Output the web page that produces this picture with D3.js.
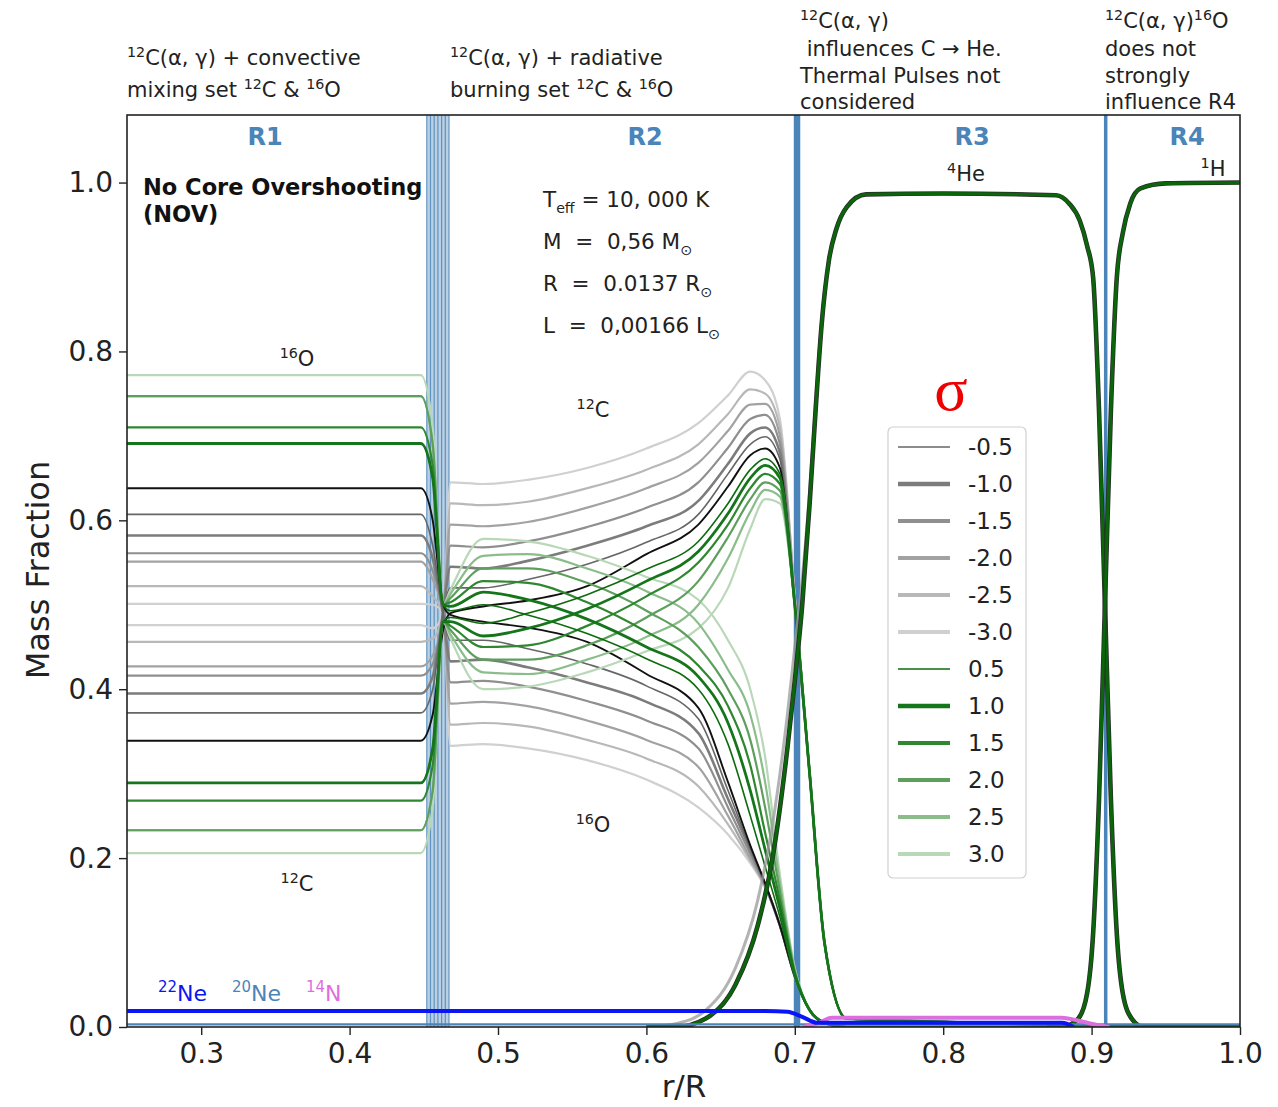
<!DOCTYPE html>
<html lang="en">
<head>
<meta charset="UTF-8">
<title>Mass fraction profiles</title>
<script src="https://cdnjs.cloudflare.com/ajax/libs/d3/7.8.5/d3.min.js"></script>
<style>
  body { margin: 0; background: #fff; }
  svg text { font-family: "DejaVu Sans", sans-serif; fill: #222; white-space: pre; }
  .region { font-weight: bold; fill: #4a84b8; font-size: 24px; text-anchor: middle; }
</style>
</head>
<body>
<div id="chart"></div>
<script>
// ---- data ----
const xTicks = [0.3, 0.4, 0.5, 0.6, 0.7, 0.8, 0.9, 1.0];
const yTicks = [0.0, 0.2, 0.4, 0.6, 0.8, 1.0];

// sigma of the 12C(a,g) rate; "0.0" is the black reference run (not in legend)
const sigmaLabels = ["-3.0", "-2.5", "-2.0", "-1.5", "-1.0", "-0.5", "0.0", "0.5", "1.0", "1.5", "2.0", "2.5", "3.0"];
const legendLabels = ["-0.5", "-1.0", "-1.5", "-2.0", "-2.5", "-3.0", "0.5", "1.0", "1.5", "2.0", "2.5", "3.0"];

// r/R knots where the C and O profiles were read
const coKnots = [0.25, 0.448, 0.456, 0.463, 0.468, 0.49, 0.52, 0.56, 0.60, 0.635, 0.655, 0.67, 0.68, 0.69, 0.70, 0.71, 0.72, 0.735, 1.0];

const carbon = [
  [0.476, 0.476, 0.472, 0.49, 0.645, 0.643, 0.648, 0.662, 0.685, 0.715, 0.748, 0.776, 0.766, 0.72, 0.51, 0.30, 0.10, 0.01, 0],
  [0.456, 0.456, 0.46, 0.49, 0.62, 0.618, 0.622, 0.638, 0.66, 0.69, 0.726, 0.755, 0.75, 0.71, 0.51, 0.30, 0.10, 0.01, 0],
  [0.427, 0.427, 0.44, 0.49, 0.595, 0.593, 0.598, 0.615, 0.638, 0.668, 0.706, 0.737, 0.738, 0.70, 0.51, 0.30, 0.10, 0.01, 0],
  [0.416, 0.416, 0.43, 0.49, 0.57, 0.568, 0.575, 0.592, 0.615, 0.645, 0.686, 0.72, 0.725, 0.69, 0.50, 0.30, 0.10, 0.01, 0],
  [0.395, 0.395, 0.415, 0.49, 0.545, 0.543, 0.552, 0.57, 0.593, 0.623, 0.667, 0.703, 0.71, 0.68, 0.50, 0.30, 0.10, 0.01, 0],
  [0.372, 0.372, 0.40, 0.49, 0.52, 0.52, 0.53, 0.548, 0.574, 0.607, 0.655, 0.69, 0.699, 0.672, 0.50, 0.30, 0.10, 0.01, 0],
  [0.339, 0.339, 0.37, 0.47, 0.49, 0.498, 0.505, 0.522, 0.56, 0.595, 0.64, 0.677, 0.685, 0.662, 0.50, 0.30, 0.10, 0.01, 0],
  [0.289, 0.289, 0.33, 0.48, 0.485, 0.478, 0.49, 0.512, 0.542, 0.575, 0.62, 0.66, 0.673, 0.655, 0.50, 0.30, 0.10, 0.01, 0],
  [0.289, 0.289, 0.33, 0.48, 0.48, 0.463, 0.472, 0.495, 0.528, 0.563, 0.608, 0.65, 0.665, 0.65, 0.50, 0.30, 0.10, 0.01, 0],
  [0.268, 0.268, 0.31, 0.48, 0.475, 0.45, 0.452, 0.475, 0.51, 0.55, 0.595, 0.638, 0.655, 0.643, 0.50, 0.30, 0.10, 0.01, 0],
  [0.233, 0.233, 0.28, 0.48, 0.47, 0.435, 0.435, 0.452, 0.485, 0.528, 0.58, 0.625, 0.645, 0.635, 0.50, 0.30, 0.10, 0.01, 0],
  [0.233, 0.233, 0.28, 0.48, 0.465, 0.42, 0.418, 0.435, 0.462, 0.50, 0.555, 0.61, 0.636, 0.628, 0.50, 0.30, 0.10, 0.01, 0],
  [0.206, 0.206, 0.26, 0.48, 0.46, 0.40, 0.403, 0.42, 0.445, 0.472, 0.52, 0.59, 0.625, 0.62, 0.50, 0.30, 0.10, 0.01, 0]
];

const oxygen = [
  [0.501, 0.501, 0.50, 0.49, 0.333, 0.335, 0.33, 0.316, 0.293, 0.26, 0.228, 0.194, 0.165, 0.12, 0.06, 0.02, 0.005, 0, 0],
  [0.522, 0.522, 0.51, 0.49, 0.358, 0.36, 0.356, 0.34, 0.318, 0.285, 0.24, 0.197, 0.166, 0.12, 0.06, 0.02, 0.005, 0, 0],
  [0.551, 0.551, 0.53, 0.49, 0.383, 0.385, 0.38, 0.363, 0.34, 0.308, 0.25, 0.20, 0.167, 0.12, 0.06, 0.02, 0.005, 0, 0],
  [0.561, 0.561, 0.54, 0.49, 0.408, 0.41, 0.403, 0.386, 0.363, 0.33, 0.26, 0.205, 0.168, 0.12, 0.06, 0.02, 0.005, 0, 0],
  [0.582, 0.582, 0.555, 0.49, 0.433, 0.435, 0.426, 0.408, 0.385, 0.348, 0.27, 0.21, 0.169, 0.12, 0.06, 0.02, 0.005, 0, 0],
  [0.607, 0.607, 0.57, 0.49, 0.458, 0.458, 0.448, 0.43, 0.404, 0.365, 0.28, 0.212, 0.17, 0.12, 0.06, 0.02, 0.005, 0, 0],
  [0.638, 0.638, 0.60, 0.50, 0.488, 0.48, 0.473, 0.456, 0.418, 0.378, 0.29, 0.215, 0.17, 0.12, 0.06, 0.02, 0.005, 0, 0],
  [0.691, 0.691, 0.65, 0.50, 0.493, 0.50, 0.488, 0.466, 0.436, 0.40, 0.335, 0.25, 0.19, 0.13, 0.06, 0.02, 0.005, 0, 0],
  [0.691, 0.691, 0.65, 0.50, 0.498, 0.515, 0.506, 0.483, 0.45, 0.415, 0.36, 0.28, 0.21, 0.14, 0.062, 0.02, 0.005, 0, 0],
  [0.710, 0.710, 0.665, 0.50, 0.503, 0.528, 0.526, 0.503, 0.468, 0.428, 0.38, 0.31, 0.23, 0.15, 0.064, 0.02, 0.005, 0, 0],
  [0.747, 0.747, 0.69, 0.50, 0.508, 0.543, 0.543, 0.526, 0.493, 0.45, 0.40, 0.34, 0.26, 0.16, 0.066, 0.02, 0.005, 0, 0],
  [0.747, 0.747, 0.69, 0.50, 0.513, 0.558, 0.56, 0.543, 0.516, 0.478, 0.423, 0.37, 0.29, 0.17, 0.068, 0.02, 0.005, 0, 0],
  [0.772, 0.772, 0.71, 0.50, 0.518, 0.578, 0.575, 0.558, 0.533, 0.506, 0.458, 0.40, 0.32, 0.18, 0.07, 0.02, 0.005, 0, 0]
];

// 4He (gray runs rise a bit earlier) and 1H
const heX = [0.60, 0.62, 0.64, 0.66, 0.675, 0.685, 0.695, 0.70, 0.705, 0.71, 0.714, 0.718, 0.723, 0.728, 0.735, 0.748, 0.80, 0.876, 0.885, 0.892, 0.897, 0.901, 0.905, 0.909, 0.913, 0.917, 0.921, 0.927, 0.935, 1.0];
const heGreen = [0, 0, 0.01, 0.05, 0.12, 0.20, 0.33, 0.41, 0.50, 0.62, 0.73, 0.83, 0.908, 0.945, 0.971, 0.986, 0.987, 0.985, 0.975, 0.955, 0.925, 0.888, 0.73, 0.50, 0.27, 0.11, 0.04, 0.01, 0, 0];
const heGray = [0, 0.004, 0.02, 0.07, 0.15, 0.24, 0.37, 0.45, 0.53, 0.635, 0.74, 0.835, 0.91, 0.946, 0.972, 0.986, 0.987, 0.985, 0.975, 0.955, 0.925, 0.888, 0.73, 0.50, 0.27, 0.11, 0.04, 0.01, 0, 0];
const hX = [0.87, 0.88, 0.891, 0.897, 0.901, 0.905, 0.909, 0.913, 0.917, 0.921, 0.926, 0.933, 0.95, 1.0];
const hVals = [0, 0, 0.01, 0.04, 0.11, 0.27, 0.50, 0.73, 0.888, 0.94, 0.975, 0.993, 0.999, 1.0];

// trace species
const ne22X = [0.25, 0.68, 0.695, 0.705, 0.715, 0.88, 0.888];
const ne22 = [0.019, 0.019, 0.018, 0.012, 0.005, 0.005, 0.0];
const ne20X = [0.25, 1.0];
const ne20 = [0.003, 0.003];
const n14X = [0.705, 0.715, 0.725, 0.88, 0.89, 0.905, 0.912];
const n14 = [0.0, 0.004, 0.011, 0.011, 0.008, 0.002, 0.0];

// region boundaries
const bandLines = [0.452, 0.4545, 0.457, 0.4595, 0.462, 0.4645, 0.467];
const boundaryLines = [0.7005, 0.7025, 0.9095];

// ---- styles ----
const sigmaStyle = {
  "-3.0": { c: "#d0d0d0", w: 2.2, lw: 4 },
  "-2.5": { c: "#b8b8b8", w: 2.2, lw: 4 },
  "-2.0": { c: "#a2a2a2", w: 2.2, lw: 4 },
  "-1.5": { c: "#8f8f8f", w: 2.2, lw: 4 },
  "-1.0": { c: "#7c7c7c", w: 2.6, lw: 4.5 },
  "-0.5": { c: "#666666", w: 1.6, lw: 1.6 },
  "0.0":  { c: "#111111", w: 1.9, lw: 1.9 },
  "0.5":  { c: "#0d6b0d", w: 1.6, lw: 1.6 },
  "1.0":  { c: "#15751a", w: 2.8, lw: 4.5 },
  "1.5":  { c: "#2f872f", w: 2.2, lw: 4 },
  "2.0":  { c: "#5e9f5e", w: 2.2, lw: 4 },
  "2.5":  { c: "#8abd8a", w: 2.2, lw: 4 },
  "3.0":  { c: "#b8d8b8", w: 2.2, lw: 4 }
};
const drawOrder = ["-3.0", "-2.5", "-2.0", "-1.5", "-1.0", "-0.5", "0.0", "3.0", "2.5", "2.0", "1.5", "0.5", "1.0"];

const width = 1278, height = 1107;
const x = d3.scaleLinear().domain([0.25, 1.0]).range([127, 1240]);
const y = d3.scaleLinear().domain([0, 1.08]).range([1027, 115]);

const svg = d3.select("#chart").append("svg")
  .attr("width", width).attr("height", height);

svg.append("defs").append("clipPath").attr("id", "plotclip")
  .append("rect").attr("x", 127).attr("y", 115).attr("width", 1113).attr("height", 912);

const plot = svg.append("g").attr("clip-path", "url(#plotclip)");

const line = d3.line().x(d => x(d[0])).y(d => y(d[1])).curve(d3.curveMonotoneX);
const zipXY = (xs, ys) => xs.map((v, i) => [v, ys[i]]);

// text with ^{sup} and _{sub} pieces
function rich(px, py, str, size, opts = {}) {
  const t = svg.append("text").attr("x", px).attr("y", py).attr("font-size", size);
  if (opts.anchor) t.attr("text-anchor", opts.anchor);
  if (opts.weight) t.attr("font-weight", opts.weight);
  if (opts.fill) t.style("fill", opts.fill);
  const re = /(\^|_)\{([^}]*)\}/g;
  let last = 0, cur = 0, m;
  const seg = (s, off, fs) => {
    if (!s) return;
    const ts = t.append("tspan").attr("dy", off - cur).text(s);
    if (fs) ts.attr("font-size", fs);
    cur = off;
  };
  while ((m = re.exec(str))) {
    seg(str.slice(last, m.index), 0);
    if (m[1] === "^") seg(m[2], -0.4 * size, size * 0.68);
    else seg(m[2], 0.28 * size, size * 0.66);
    last = re.lastIndex;
  }
  seg(str.slice(last), 0);
  return t;
}

// blue boundary band and lines (behind the curves)
plot.append("rect")
  .attr("x", x(bandLines[0])).attr("y", 115)
  .attr("width", x(bandLines[bandLines.length - 1]) - x(bandLines[0])).attr("height", 912)
  .attr("fill", "#4a84b8").attr("opacity", 0.38);
plot.selectAll(".band").data(bandLines).join("line")
  .attr("x1", d => x(d)).attr("x2", d => x(d)).attr("y1", 115).attr("y2", 1027)
  .attr("stroke", "#4a84b8").attr("stroke-width", 1.2).attr("opacity", 0.8);
plot.selectAll(".bound").data(boundaryLines).join("line")
  .attr("x1", d => x(d)).attr("x2", d => x(d)).attr("y1", 115).attr("y2", 1027)
  .attr("stroke", "#4a84b8").attr("stroke-width", 3.5);

// C and O profiles
drawOrder.forEach(s => {
  const i = sigmaLabels.indexOf(s);
  const st = sigmaStyle[s];
  [carbon[i], oxygen[i]].forEach(vals => {
    plot.append("path")
      .attr("d", line(zipXY(coKnots, vals)))
      .attr("fill", "none").attr("stroke", st.c).attr("stroke-width", st.w);
  });
});

// He and H
plot.append("path").attr("d", line(zipXY(heX, heGray)))
  .attr("fill", "none").attr("stroke", "#9a9a9a").attr("stroke-width", 3).attr("opacity", 0.75);
plot.append("path").attr("d", line(zipXY(heX, heGreen)))
  .attr("fill", "none").attr("stroke", "#2a2a2a").attr("stroke-width", 4.6);
plot.append("path").attr("d", line(zipXY(heX, heGreen)))
  .attr("fill", "none").attr("stroke", "#0b650b").attr("stroke-width", 3.2);
plot.append("path").attr("d", line(zipXY(hX, hVals)))
  .attr("fill", "none").attr("stroke", "#2a2a2a").attr("stroke-width", 4.6);
plot.append("path").attr("d", line(zipXY(hX, hVals)))
  .attr("fill", "none").attr("stroke", "#0b650b").attr("stroke-width", 3.2);

// trace species
plot.append("path").attr("d", line(zipXY(ne20X, ne20)))
  .attr("fill", "none").attr("stroke", "#4a84b8").attr("stroke-width", 2.2);
plot.append("path").attr("d", line(zipXY(n14X, n14)))
  .attr("fill", "none").attr("stroke", "#dd6edd").attr("stroke-width", 4);
plot.append("path").attr("d", line(zipXY(ne22X, ne22)))
  .attr("fill", "none").attr("stroke", "#0a14f5").attr("stroke-width", 4);

// axes
const xAxis = d3.axisBottom(x).tickValues(xTicks).tickFormat(d3.format(".1f"))
  .tickSize(8).tickSizeOuter(0).tickPadding(8);
const yAxis = d3.axisLeft(y).tickValues(yTicks).tickFormat(d3.format(".1f"))
  .tickSize(8).tickSizeOuter(0).tickPadding(6);

svg.append("g").attr("transform", "translate(0,1027)").call(xAxis)
  .call(g => g.select(".domain").remove())
  .attr("font-size", 28).attr("font-family", "DejaVu Sans")
  .call(g => g.selectAll("line").attr("stroke", "#222").attr("stroke-width", 1.4));
svg.append("g").attr("transform", "translate(127,0)").call(yAxis)
  .call(g => g.select(".domain").remove())
  .attr("font-size", 28).attr("font-family", "DejaVu Sans")
  .call(g => g.selectAll("line").attr("stroke", "#222").attr("stroke-width", 1.4));

svg.append("rect").attr("x", 127).attr("y", 115).attr("width", 1113).attr("height", 912)
  .attr("fill", "none").attr("stroke", "#222").attr("stroke-width", 1.6);

svg.append("text").attr("x", 684).attr("y", 1097).attr("text-anchor", "middle")
  .attr("font-size", 31).text("r/R");
svg.append("text").attr("transform", "translate(49,570) rotate(-90)").attr("text-anchor", "middle")
  .attr("font-size", 32).text("Mass Fraction");

// annotations above the frame
const topNotes = [
  { x: 127, ys: [65, 97], lines: ["^{12}C(α, γ) + convective", "mixing set ^{12}C & ^{16}O"] },
  { x: 450, ys: [65, 97], lines: ["^{12}C(α, γ) + radiative", "burning set ^{12}C & ^{16}O"] },
  { x: 800, ys: [28, 56, 83, 109], lines: ["^{12}C(α, γ)", " influences C → He.", "Thermal Pulses not", "considered"] },
  { x: 1105, ys: [28, 56, 83, 109], lines: ["^{12}C(α, γ)^{16}O", "does not", "strongly", "influence R4"] }
];
topNotes.forEach(n => n.lines.forEach((t, i) => rich(n.x, n.ys[i], t, 21)));

// region labels
[["R1", 265], ["R2", 645], ["R3", 972], ["R4", 1187]].forEach(([t, px]) => {
  svg.append("text").attr("class", "region").attr("x", px).attr("y", 145).text(t);
});

rich(143, 195, "No Core Overshooting", 22.5, { weight: "bold", fill: "#111" });
rich(143, 222, "(NOV)", 22.5, { weight: "bold", fill: "#111" });

// stellar parameters
rich(543, 207, "T_{eff} = 10, 000 K", 21.5);
rich(543, 249, "M  =  0,56 M_{⊙}", 21.5);
rich(543, 291, "R  =  0.0137 R_{⊙}", 21.5);
rich(543, 333, "L  =  0,00166 L_{⊙}", 21.5);

// isotope labels
[["^{16}O", 297, 366], ["^{12}C", 593, 417], ["^{12}C", 297, 891], ["^{16}O", 593, 832], ["^{4}He", 966, 181], ["^{1}H", 1213, 176]]
  .forEach(([t, px, py]) => rich(px, py, t, 21, { anchor: "middle" }));
[["^{22}Ne", 158, "#0a14f5"], ["^{20}Ne", 232, "#4a84b8"], ["^{14}N", 306, "#dd6edd"]]
  .forEach(([t, px, c]) => rich(px, 1001, t, 22, { fill: c }));

// legend
svg.append("text").attr("x", 951).attr("y", 410).attr("text-anchor", "middle")
  .attr("font-size", 62).style("font-family", "Liberation Serif")
  .style("fill", "#ee0000").text("σ");
const lg = svg.append("g");
lg.append("rect").attr("x", 888).attr("y", 427).attr("width", 138).attr("height", 451).attr("rx", 5)
  .attr("fill", "#fff").attr("fill-opacity", 0.85).attr("stroke", "#d0d0d0").attr("stroke-width", 1.2);
legendLabels.forEach((s, i) => {
  const st = sigmaStyle[s];
  const yy = 447 + i * 37;
  lg.append("line").attr("x1", 898).attr("x2", 950).attr("y1", yy).attr("y2", yy)
    .attr("stroke", st.c).attr("stroke-width", st.lw);
  lg.append("text").attr("x", 968).attr("y", yy).attr("dy", "0.36em").attr("font-size", 23).text(s);
});
</script>
</body>
</html>
